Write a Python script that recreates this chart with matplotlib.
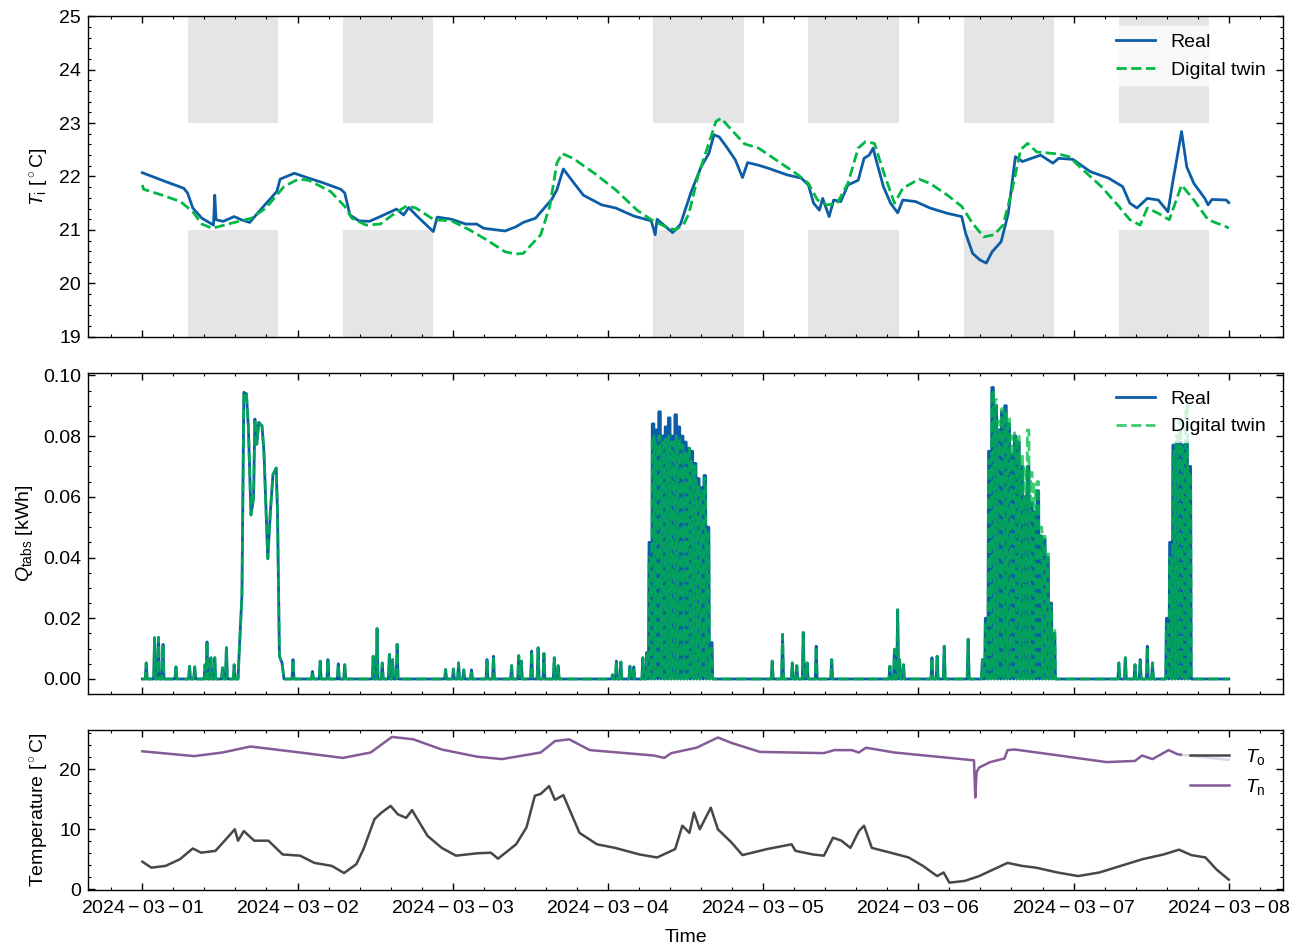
import numpy as np
import matplotlib
matplotlib.use('Agg')
import matplotlib.pyplot as plt
import matplotlib.dates as mdates
from matplotlib.ticker import AutoMinorLocator, FuncFormatter

# ---- data (hours after 2024-03-01 00:00) ----
START = np.datetime64('2024-03-01T00:00')

# indoor temperature T_i
TI_REAL_H = [0.0, 3.7, 6.4, 7.0, 7.8, 9.2, 10.6, 11.0, 11.2, 11.4, 12.5, 14.2, 15.3, 16.6, 18.0,
             20.8, 21.3, 23.5, 25.7, 28.0, 30.7, 31.3, 32.1, 33.5, 35.1, 36.8, 39.3, 40.4, 41.2,
             42.3, 44.2, 45.0, 45.6, 47.8, 50.0, 51.7, 52.8, 56.1, 57.8, 58.9, 60.8, 63.3, 64.1,
             65.1, 66.6, 68.2, 71.0, 73.2, 76.0, 78.7, 79.3, 79.6, 82.0, 83.2, 84.8, 86.4, 87.6,
             88.4, 89.2, 90.3, 91.7, 92.8, 93.6, 95.3, 96.9, 99.7, 101.9, 103.0, 103.8, 104.7,
             105.2, 106.2, 106.9, 108.0, 109.1, 110.7, 111.6, 112.4, 113.0, 113.4, 114.6, 115.7,
             116.8, 117.6, 119.6, 121.8, 124.5, 126.7, 127.3, 128.4, 129.5, 130.5, 131.4, 132.8,
             133.9, 135.0, 136.1, 138.9, 140.8, 141.7, 143.9, 146.6, 149.4, 151.6, 152.7, 153.8,
             155.4, 157.1, 158.6, 159.3, 160.7, 161.5, 162.6, 164.3, 164.8, 165.4, 167.6, 168.0]
TI_REAL_V = [22.07, 21.90, 21.78, 21.69, 21.41, 21.22, 21.12, 21.09, 21.65, 21.19, 21.16, 21.25, 21.19,
             21.14, 21.34, 21.72, 21.95, 22.06, 21.97, 21.88, 21.76, 21.69, 21.28, 21.17, 21.16,
             21.25, 21.39, 21.28, 21.42, 21.28, 21.06, 20.97, 21.24, 21.20, 21.11, 21.11, 21.03,
             20.98, 21.06, 21.14, 21.22, 21.57, 21.75, 22.14, 21.90, 21.65, 21.47, 21.41, 21.26,
             21.17, 20.91, 21.20, 20.95, 21.10, 21.69, 22.18, 22.43, 22.78, 22.74, 22.56, 22.31,
             21.98, 22.26, 22.21, 22.15, 22.03, 21.97, 21.84, 21.50, 21.37, 21.59, 21.25, 21.56,
             21.53, 21.84, 21.93, 22.34, 22.40, 22.53, 22.34, 21.81, 21.50, 21.32, 21.56, 21.53,
             21.41, 21.31, 21.25, 20.94, 20.56, 20.44, 20.38, 20.59, 20.78, 21.31, 22.37, 22.28,
             22.40, 22.25, 22.34, 22.32, 22.09, 21.97, 21.81, 21.50, 21.41, 21.59, 21.56, 21.34,
             21.87, 22.84, 22.18, 21.87, 21.59, 21.47, 21.57, 21.56, 21.51]

TI_TWIN_H = [0.0, 0.2, 3.1, 5.9, 7.8, 9.2, 10.8, 13.6, 16.9, 19.1, 21.9, 24.1, 25.7, 29.1, 31.3,
             32.4, 34.6, 36.8, 39.0, 40.9, 42.3, 45.1, 47.8, 50.6, 53.3, 56.1, 57.8, 58.9, 61.6,
             63.0, 64.1, 64.9, 66.6, 69.9, 73.2, 76.5, 78.7, 80.9, 82.4, 83.7, 84.5, 85.9, 87.6,
             88.7, 89.5, 90.9, 93.1, 95.3, 98.0, 101.4, 103.0, 104.4, 105.8, 107.4, 109.1, 110.7,
             111.8, 113.2, 114.6, 116.3, 117.6, 120.1, 121.8, 124.5, 126.7, 128.4, 130.1, 131.7,
             133.1, 134.5, 135.8, 136.9, 138.3, 141.7, 143.3, 145.5, 148.3, 151.0, 152.7, 154.3,
             155.4, 157.1, 158.8, 160.7, 162.6, 164.8, 167.6, 168.0]
TI_TWIN_V = [21.84, 21.76, 21.65, 21.53, 21.34, 21.11, 21.03, 21.12, 21.22, 21.41, 21.81, 21.95,
             21.93, 21.72, 21.44, 21.22, 21.09, 21.11, 21.31, 21.45, 21.41, 21.19, 21.17, 21.00,
             20.81, 20.59, 20.55, 20.56, 20.91, 21.44, 22.25, 22.43, 22.34, 22.06, 21.75, 21.37,
             21.19, 21.06, 21.00, 21.10, 21.30, 22.00, 22.62, 23.03, 23.09, 22.90, 22.61, 22.53,
             22.31, 22.03, 21.87, 21.56, 21.47, 21.49, 21.87, 22.53, 22.65, 22.62, 22.09, 21.50,
             21.78, 21.95, 21.87, 21.65, 21.44, 21.12, 20.87, 20.91, 21.09, 21.75, 22.50, 22.62,
             22.46, 22.42, 22.37, 22.12, 21.81, 21.44, 21.19, 21.09, 21.41, 21.31, 21.19, 21.84,
             21.56, 21.19, 21.06, 21.03]

# comfort band, occupied days / hours
OCC_DAYS = [0, 1, 3, 4, 5, 6]
OCC_START, OCC_END = 7.0, 21.0
BAND_LO, BAND_HI = 21.0, 23.0

# TABS heat Q_tabs (kWh): isolated pulses (hour, peak)
Q_PULSE_H = [0.6, 1.9, 2.5, 3.2, 5.2, 7.3, 8.1, 9.7, 10.0, 10.6, 11.2, 12.4, 13.0, 14.2,
             23.3, 26.3, 27.5, 28.7, 30.3, 31.3, 35.7, 36.3, 37.1, 38.2, 38.7, 39.4, 46.9, 48.1,
             48.9, 49.7, 50.9, 53.3, 54.3, 57.1, 58.2, 58.6, 60.2, 61.2, 62.1, 63.7, 64.3, 72.7,
             73.3, 74.0, 75.4, 76.0, 77.4, 78.0, 97.4, 99.0, 100.5, 101.2, 102.2, 102.8, 104.2,
             106.6, 115.6, 116.3, 116.8, 117.1, 117.7, 122.1, 122.9, 124.0, 127.7, 129.9, 151.0,
             152.0, 153.5, 154.3, 155.4, 156.2]
Q_PULSE_V = [0.0053, 0.0136, 0.0137, 0.0114, 0.0040, 0.0042, 0.0040, 0.0047, 0.0122, 0.0070,
             0.0070, 0.0037, 0.0103, 0.0047, 0.0064, 0.0025, 0.0059, 0.0064, 0.0050, 0.0047,
             0.0075, 0.0166, 0.0053, 0.0081, 0.0064, 0.0114, 0.0031, 0.0033, 0.0053, 0.0030,
             0.0030, 0.0064, 0.0075, 0.0044, 0.0077, 0.0059, 0.0092, 0.0103, 0.0084, 0.0070,
             0.0044, 0.0014, 0.0059, 0.0056, 0.0042, 0.0040, 0.0070, 0.0087, 0.0059, 0.0147,
             0.0053, 0.0044, 0.0153, 0.0053, 0.0108, 0.0064, 0.0042, 0.0098, 0.0228, 0.0064,
             0.0047, 0.0070, 0.0075, 0.0108, 0.0131, 0.0064, 0.0053, 0.0070, 0.0047, 0.0064,
             0.0108, 0.0053]

# heating on 03-01 afternoon (continuous)
Q_RUN_H = [14.8, 15.0, 15.4, 15.7, 16.1, 16.4, 16.8, 17.2, 17.4, 17.7, 18.0, 18.5, 18.8, 19.4,
           19.8, 20.2, 20.7, 20.9, 21.2, 21.6, 21.9]
Q_RUN_V = [0.0, 0.0098, 0.0274, 0.0944, 0.0939, 0.0828, 0.054, 0.0596, 0.0856, 0.0773, 0.0845,
           0.0834, 0.0751, 0.0396, 0.0551, 0.0673, 0.0695, 0.0551, 0.0075, 0.0053, 0.0]

# on/off cycling blocks: cycle centre hour and on-level (real / twin)
Q_CYC_H = [78.5, 79.0, 79.5, 80.0, 80.5, 81.0, 81.5, 82.0, 82.5, 83.0, 83.5, 84.0, 84.5, 85.0,
           85.5, 86.0, 86.5, 87.0, 87.5, 88.0,
           130.5, 131.0, 131.5, 132.0, 132.5, 133.0, 133.5, 134.0, 134.5, 135.0, 135.5, 136.0,
           136.5, 137.0, 137.5, 138.0, 138.5, 139.0, 139.5, 140.0, 140.5, 141.0,
           158.5, 159.0, 159.5, 160.0, 160.5, 161.0, 161.5, 162.0]
Q_CYC_REAL = [0.045, 0.084, 0.082, 0.088, 0.080, 0.083, 0.086, 0.080, 0.087, 0.083, 0.080, 0.078,
              0.076, 0.075, 0.071, 0.066, 0.063, 0.067, 0.050, 0.012,
              0.020, 0.075, 0.096, 0.090, 0.082, 0.088, 0.090, 0.084, 0.074, 0.080, 0.078, 0.070,
              0.060, 0.070, 0.058, 0.055, 0.062, 0.047, 0.046, 0.040, 0.025, 0.015,
              0.020, 0.045, 0.077, 0.078, 0.078, 0.077, 0.078, 0.070]
Q_CYC_TWIN = [0.040, 0.080, 0.078, 0.080, 0.078, 0.079, 0.080, 0.078, 0.080, 0.079, 0.077, 0.075,
              0.076, 0.072, 0.070, 0.064, 0.062, 0.066, 0.048, 0.010,
              0.018, 0.072, 0.095, 0.092, 0.085, 0.089, 0.088, 0.086, 0.080, 0.081, 0.080, 0.074,
              0.070, 0.082, 0.068, 0.064, 0.065, 0.050, 0.047, 0.042, 0.024, 0.016,
              0.018, 0.040, 0.075, 0.080, 0.085, 0.076, 0.090, 0.068]

# outdoor / neighbour temperature
TO_H = [0.0, 1.4, 3.6, 5.8, 7.8, 9.1, 11.3, 12.9, 14.3, 14.8, 15.7, 17.3, 19.5, 21.7, 24.4, 26.6,
        29.3, 31.2, 33.1, 34.2, 35.9, 37.0, 38.4, 39.5, 40.8, 41.7, 44.1, 46.3, 48.5, 51.8, 53.9,
        55.0, 57.8, 59.4, 60.7, 61.6, 62.9, 63.8, 65.1, 67.6, 70.3, 73.1, 76.9, 79.6, 82.4, 83.5,
        84.6, 85.3, 86.2, 87.0, 87.9, 89.0, 91.1, 92.8, 96.6, 100.4, 101.0, 103.7, 105.4, 106.8,
        108.1, 109.5, 110.8, 111.6, 112.8, 115.7, 118.5, 120.7, 122.9, 123.9, 124.8, 127.2,
        129.4, 131.6, 133.8, 136.0, 138.2, 141.5, 144.7, 148.0, 151.3, 154.6, 157.9, 160.3,
        162.2, 164.4, 166.1, 168.0]
TO_V = [4.6, 3.6, 3.9, 5.0, 6.8, 6.1, 6.4, 8.3, 10.0, 8.1, 9.7, 8.1, 8.1, 5.8, 5.6, 4.4, 3.9,
        2.7, 4.2, 6.7, 11.7, 12.8, 13.9, 12.5, 11.9, 13.2, 8.9, 6.9, 5.6, 6.0, 6.1, 5.1, 7.5,
        10.3, 15.6, 15.9, 17.2, 14.9, 15.7, 9.4, 7.5, 6.9, 5.8, 5.3, 6.7, 10.6, 9.4, 12.8, 10.0,
        11.7, 13.6, 10.0, 7.8, 5.7, 6.7, 7.5, 6.4, 5.8, 5.6, 8.6, 8.1, 6.9, 9.7, 10.6, 6.9, 6.1,
        5.3, 3.9, 2.2, 2.8, 1.1, 1.4, 2.2, 3.3, 4.4, 3.9, 3.6, 2.8, 2.2, 2.8, 3.9, 5.0, 5.8, 6.6,
        5.7, 5.3, 3.3, 1.6]
TN_H = [0.0, 8.0, 12.4, 16.7, 24.4, 31.0, 35.3, 38.6, 41.9, 46.3, 51.8, 55.6, 61.6, 63.8, 66.0,
        69.2, 74.7, 79.1, 80.7, 81.8, 85.7, 89.0, 91.1, 95.5, 105.4, 107.0, 109.7, 110.8, 111.9,
        116.3, 122.9, 128.6, 128.8, 129.0, 129.4, 131.1, 133.3, 133.8, 134.9, 140.4, 149.1,
        153.5, 154.6, 156.2, 158.7, 160.1, 167.7, 168.0]
TN_V = [23.0, 22.2, 22.8, 23.8, 22.8, 21.9, 22.8, 25.4, 25.0, 23.3, 22.1, 21.7, 22.8, 24.7, 25.0,
        23.2, 22.7, 22.3, 21.9, 22.7, 23.6, 25.3, 24.4, 22.9, 22.7, 23.2, 23.2, 22.8, 23.6, 22.8,
        22.1, 21.5, 15.3, 19.5, 20.3, 21.2, 21.8, 23.2, 23.3, 22.5, 21.2, 21.4, 22.3, 21.7, 23.2,
        22.5, 21.6, 21.6]

C_REAL = '#0C5DA5'
C_TWIN = '#00B945'
C_TO = '#474747'
C_TN = '#845B97'

plt.rcParams.update({
    'font.family': ['Liberation Sans', 'DejaVu Sans'],
    'font.size': 14,
    'mathtext.fontset': 'custom',
    'mathtext.rm': 'Liberation Sans',
    'mathtext.it': 'Liberation Sans:italic',
    'mathtext.bf': 'Liberation Sans:bold',
    'axes.linewidth': 1.0,
    'axes.labelpad': 6,
    'xtick.direction': 'in', 'ytick.direction': 'in',
    'xtick.top': True, 'ytick.right': True,
    'xtick.minor.visible': True, 'ytick.minor.visible': True,
    'xtick.major.size': 5, 'ytick.major.size': 5,
    'xtick.minor.size': 2.5, 'ytick.minor.size': 2.5,
    'xtick.major.width': 1.0, 'ytick.major.width': 1.0,
    'xtick.minor.width': 0.8, 'ytick.minor.width': 0.8,
    'xtick.major.pad': 7, 'ytick.major.pad': 5,
    'legend.frameon': True, 'legend.framealpha': 0.75,
    'legend.edgecolor': 'none', 'legend.fancybox': False,
})


def to_time(hours):
    return START + (np.asarray(hours) * 3600).astype('timedelta64[s]')


def pulses(hs, vs):
    # short pulse: off -> peak -> off
    xs, ys = [], []
    for h, v in zip(hs, vs):
        xs += [h - 0.15, h, h + 0.15]
        ys += [0.0, v, 0.0]
    return xs, ys


def cycles(hs, vs):
    # on/off cycling: off -> on (held) -> off
    xs, ys = [], []
    for h, v in zip(hs, vs):
        xs += [h - 0.25, h - 0.15, h + 0.1, h + 0.2]
        ys += [0.0, v, v, 0.0]
    return xs, ys


def q_series(cyc_vals):
    ph, pv = pulses(Q_PULSE_H, Q_PULSE_V)
    ch, cv = cycles(Q_CYC_H, cyc_vals)
    h = np.array([0.0] + ph + Q_RUN_H + ch + [168.0])
    v = np.array([0.0] + pv + Q_RUN_V + cv + [0.0])
    o = np.argsort(h, kind='stable')
    return h[o], v[o]


fig = plt.figure(figsize=(13, 9.5), dpi=100)
gs = fig.add_gridspec(3, 1, height_ratios=[2, 2, 1], hspace=0.135)
fig.subplots_adjust(left=0.0677, right=0.987, top=0.983, bottom=0.0632)
ax1 = fig.add_subplot(gs[0])
ax2 = fig.add_subplot(gs[1], sharex=ax1)
ax3 = fig.add_subplot(gs[2], sharex=ax1)

# --- T_i ---
for d in OCC_DAYS:
    t = to_time([d * 24 + OCC_START, d * 24 + OCC_END])
    ax1.fill_between(t, BAND_HI, 26, color='gray', alpha=0.2, lw=0, zorder=0)
    ax1.fill_between(t, 18, BAND_LO, color='gray', alpha=0.2, lw=0, zorder=0)
ax1.plot(to_time(TI_REAL_H), TI_REAL_V, color=C_REAL, lw=2.0, label='Real')
ax1.plot(to_time(TI_TWIN_H), TI_TWIN_V, color=C_TWIN, lw=2.0, ls='--', label='Digital twin')
ax1.set_ylim(19, 25)
ax1.set_ylabel(r'$T_\mathrm{i}$ [$^\circ$C]')
ax1.legend(loc='upper right')

# --- Q_tabs ---
qh, qv = q_series(Q_CYC_REAL)
ax2.plot(to_time(qh), qv, color=C_REAL, lw=2.0, label='Real')
qh, qv = q_series(Q_CYC_TWIN)
ax2.plot(to_time(qh), qv, color=C_TWIN, lw=2.0, ls='--', alpha=0.75, label='Digital twin')
ax2.set_ylabel(r'$Q_\mathrm{tabs}$ [kWh]')
ax2.set_yticks([0.0, 0.02, 0.04, 0.06, 0.08, 0.10])
ax2.legend(loc='upper right')

# --- outdoor / neighbour ---
ax3.plot(to_time(TO_H), TO_V, color=C_TO, lw=1.8, label=r'$T_\mathrm{o}$')
ax3.plot(to_time(TN_H), TN_V, color=C_TN, lw=1.8, label=r'$T_\mathrm{n}$')
ax3.set_ylabel(r'Temperature [$^\circ$C]')
ax3.set_xlabel('Time', labelpad=9)
ax3.legend(loc='upper right')

ax3.xaxis.set_major_locator(mdates.DayLocator())
ax3.xaxis.set_minor_locator(AutoMinorLocator(5))
ax3.xaxis.set_major_formatter(FuncFormatter(
    lambda x, pos: r'$\mathdefault{' + mdates.num2date(x).strftime('%Y-%m-%d') + '}$'))
for ax in (ax1, ax2):
    plt.setp(ax.get_xticklabels(), visible=False)
for ax in (ax1, ax2, ax3):
    ax.yaxis.set_minor_locator(AutoMinorLocator())

fig.savefig('out.png', dpi=100)
